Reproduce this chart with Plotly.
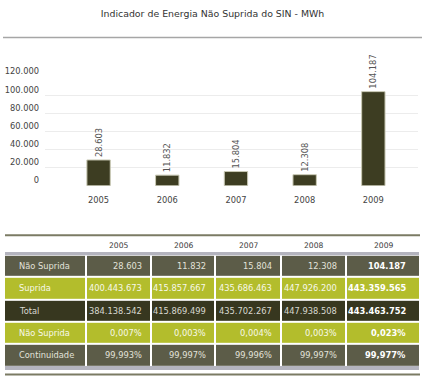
import plotly.graph_objects as go

# ---- data ----
years = ["2005", "2006", "2007", "2008", "2009"]
nao_suprida = [28603, 11832, 15804, 12308, 104187]
suprida = [400443673, 415857667, 435686463, 447926200, 443359565]
total = [384138542, 415869499, 435702267, 447938508, 443463752]
pct_nao_suprida = [0.007, 0.003, 0.004, 0.003, 0.023]
continuidade = [99.993, 99.997, 99.996, 99.997, 99.977]
row_labels = ["Não Suprida", "Suprida", "Total", "Não Suprida", "Continuidade"]
y_ticks = [0, 20000, 40000, 60000, 80000, 100000, 120000]
title_text = "Indicador de Energia Não Suprida do SIN - MWh"

# ---- layout constants (pixels) ----
W, H = 425, 383
FONT = "DejaVu Sans"
col_widths = [81.5, 65.5, 64, 66, 65, 74]   # table column widths
row_style = [0, 1, 2, 1, 0]                 # fill style per table row
fill_colors = ["#5c5c48", "#b3bd2c", "#37371f"]
text_colors = ["#e2e2da", "#f7f8ea", "#d8d8d0"]


def px_y(y):
    return (H - y) / H


def px_x(x):
    return x / W


def thou(v):
    return f"{v:,}".replace(",", ".")


def pct(v):
    return f"{v:.3f}".replace(".", ",") + "%"


fig = go.Figure()

# ---- bar chart ----
fig.add_trace(go.Bar(
    x=years, y=nao_suprida,
    marker=dict(color="#3d3d22", line=dict(color="#c9c9b4", width=1)),
    width=0.34, hoverinfo="skip",
    text=[thou(v) for v in nao_suprida],
    textposition="outside", textangle=-90, constraintext="none",
    cliponaxis=False,
    textfont=dict(family=FONT, size=8.3, color="#555555"),
    xaxis="x", yaxis="y",
))

# ---- table as heatmap ----
edges = [4.0]
for w in col_widths:
    edges.append(edges[-1] + w)
n_rows = len(row_labels)
z = [[row_style[r]] * len(col_widths) for r in range(n_rows)]

fig.add_trace(go.Heatmap(
    x=edges, y=list(range(n_rows)), z=z,
    zmin=0, zmax=2,
    colorscale=[[0, fill_colors[0]], [0.5, fill_colors[1]], [1, fill_colors[2]]],
    xgap=2, ygap=2, showscale=False, hoverinfo="skip",
    xaxis="x2", yaxis="y2",
))

rows_vals = [
    [thou(v) for v in nao_suprida],
    [thou(v) for v in suprida],
    [thou(v) for v in total],
    [pct(v) for v in pct_nao_suprida],
    [pct(v) for v in continuidade],
]

annotations = []
for r in range(n_rows):
    tc = text_colors[row_style[r]]
    annotations.append(dict(
        x=edges[0], y=r, xref="x2", yref="y2", text=row_labels[r],
        xanchor="left", yanchor="middle", xshift=13, showarrow=False,
        font=dict(family=FONT, size=8.3, color=tc)))
    for j in range(len(years)):
        last = j == len(years) - 1
        annotations.append(dict(
            x=edges[j + 2], y=r, xref="x2", yref="y2",
            text=f"<b>{rows_vals[r][j]}</b>" if last else rows_vals[r][j],
            xanchor="right", yanchor="middle", xshift=-12 if last else -7,
            showarrow=False,
            font=dict(family=FONT, size=8.3, color="#ffffff" if last else tc)))

for j, yr in enumerate(years):
    annotations.append(dict(
        x=(edges[j + 1] + edges[j + 2]) / 2, y=px_y(241), xref="x2", yref="paper",
        text=yr, xanchor="center", yanchor="middle", showarrow=False,
        font=dict(family=FONT, size=7.6, color="#3a3a3a")))

shapes = [
    dict(type="line", xref="paper", yref="paper", x0=px_x(3), x1=px_x(422),
         y0=px_y(27.3), y1=px_y(27.3), line=dict(color="#a6a6a6", width=1.5)),
    dict(type="line", xref="paper", yref="paper", x0=px_x(5), x1=px_x(420),
         y0=px_y(231), y1=px_y(231), line=dict(color="#7b7b64", width=2)),
    dict(type="rect", xref="paper", yref="paper", x0=px_x(5), x1=px_x(419),
         y0=px_y(251.5), y1=px_y(248), line=dict(width=0), fillcolor="#b4b4be"),
    dict(type="rect", xref="paper", yref="paper", x0=px_x(5), x1=px_x(419),
         y0=px_y(369.5), y1=px_y(365.5), line=dict(width=0), fillcolor="#b4b4be"),
    dict(type="line", xref="paper", yref="paper", x0=px_x(5), x1=px_x(420),
         y0=px_y(374.3), y1=px_y(374.3), line=dict(color="#7b7b64", width=2)),
]

fig.update_layout(
    width=W, height=H,
    margin=dict(l=0, r=0, t=0, b=0),
    paper_bgcolor="#ffffff", plot_bgcolor="#ffffff",
    separators=",.",
    showlegend=False,
    hovermode=False,
    font=dict(family=FONT, size=8.3, color="#444444"),
    title=dict(text=title_text, x=0.5, xanchor="center", y=px_y(14),
               yanchor="middle", font=dict(family=FONT, size=9.4, color="#333333")),
    xaxis=dict(domain=[px_x(45), px_x(418)], range=[-0.78, 4.65],
               type="category", showgrid=False, zeroline=False, showline=False,
               ticks="", tickfont=dict(size=8.3, color="#444444"),
               ticklabelstandoff=8, anchor="y", fixedrange=True),
    yaxis=dict(domain=[px_y(180), px_y(68.3)], range=[0, 120000],
               tickvals=y_ticks,
               tickformat=",d", showgrid=True, gridcolor="#ececec", gridwidth=1,
               zeroline=False, showline=False, ticks="",
               ticklabelposition="outside top", ticklabelstandoff=5,
               tickfont=dict(size=8.3, color="#444444"), anchor="x",
               fixedrange=True),
    xaxis2=dict(domain=[px_x(edges[0]), px_x(edges[-1])],
                range=[edges[0], edges[-1]], visible=False, anchor="y2",
                fixedrange=True),
    yaxis2=dict(domain=[px_y(366), px_y(251)], range=[n_rows - 0.5, -0.5],
                visible=False, anchor="x2", fixedrange=True),
    shapes=shapes,
    annotations=annotations,
)

fig.write_html("out.html",
               config={"displayModeBar": False},
               post_script="document.body.style.margin='0';document.body.style.overflow='hidden';")
